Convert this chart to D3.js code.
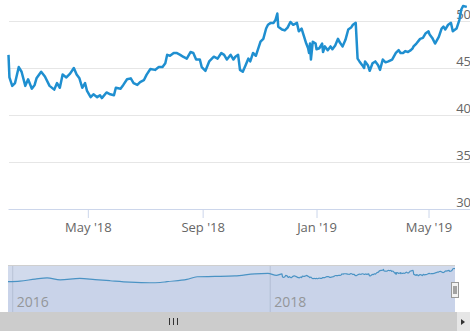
<!DOCTYPE html>
<html>
<head>
<meta charset="utf-8">
<script src="https://cdnjs.cloudflare.com/ajax/libs/d3/7.8.5/d3.min.js"></script>
<style>
  html, body { margin: 0; padding: 0; background: #fff; overflow: hidden; }
  svg { display: block; font-family: "Open Sans", sans-serif; }
</style>
</head>
<body>
<div id="chart"></div>
<script>
// price series shown in the main pane
var priceSeries = [
  ['2018-02-05', 46.4], ['2018-02-06', 44.0], ['2018-02-09', 43.1], ['2018-02-12', 43.4],
  ['2018-02-16', 45.1], ['2018-02-19', 44.6], ['2018-02-23', 43.1], ['2018-02-26', 43.8],
  ['2018-03-02', 42.8], ['2018-03-05', 43.2], ['2018-03-07', 43.9], ['2018-03-12', 44.6],
  ['2018-03-16', 44.1], ['2018-03-21', 43.1], ['2018-03-26', 42.7], ['2018-03-29', 43.4],
  ['2018-04-01', 42.9], ['2018-04-04', 44.3], ['2018-04-08', 44.0], ['2018-04-12', 44.4],
  ['2018-04-16', 45.0], ['2018-04-19', 44.3], ['2018-04-22', 43.9], ['2018-04-25', 42.9],
  ['2018-04-28', 43.4], ['2018-04-30', 42.6], ['2018-05-04', 41.9], ['2018-05-07', 42.2],
  ['2018-05-11', 41.9], ['2018-05-14', 42.1], ['2018-05-16', 41.8], ['2018-05-21', 42.4],
  ['2018-05-25', 42.2], ['2018-05-29', 42.1], ['2018-05-31', 42.9], ['2018-06-05', 42.8],
  ['2018-06-08', 43.2], ['2018-06-12', 43.8], ['2018-06-16', 43.9], ['2018-06-19', 43.4],
  ['2018-06-23', 43.2], ['2018-06-26', 43.5], ['2018-06-30', 43.7], ['2018-07-03', 44.3],
  ['2018-07-07', 44.9], ['2018-07-12', 44.8], ['2018-07-16', 45.1], ['2018-07-20', 45.1],
  ['2018-07-23', 45.5], ['2018-07-25', 46.4], ['2018-07-28', 46.3], ['2018-08-01', 46.6],
  ['2018-08-04', 46.6], ['2018-08-08', 46.4], ['2018-08-11', 46.2], ['2018-08-15', 46.0],
  ['2018-08-19', 46.7], ['2018-08-22', 46.6], ['2018-08-25', 45.9], ['2018-08-29', 45.9],
  ['2018-08-31', 45.1], ['2018-09-04', 44.7], ['2018-09-08', 45.7], ['2018-09-13', 46.2],
  ['2018-09-17', 46.0], ['2018-09-21', 46.6], ['2018-09-24', 46.4], ['2018-09-27', 45.9],
  ['2018-10-01', 46.4], ['2018-10-04', 45.9], ['2018-10-06', 46.2], ['2018-10-09', 46.4],
  ['2018-10-11', 44.8], ['2018-10-14', 44.6], ['2018-10-17', 45.3], ['2018-10-20', 46.0],
  ['2018-10-22', 45.7], ['2018-10-25', 46.6], ['2018-10-28', 46.3], ['2018-10-30', 46.9],
  ['2018-11-02', 47.8], ['2018-11-05', 48.1], ['2018-11-08', 49.2], ['2018-11-10', 49.6],
  ['2018-11-13', 49.8], ['2018-11-16', 49.8], ['2018-11-18', 50.1], ['2018-11-20', 50.8],
  ['2018-11-21', 49.4], ['2018-11-25', 49.1], ['2018-11-28', 49.0], ['2018-12-01', 49.3],
  ['2018-12-04', 49.9], ['2018-12-07', 49.6], ['2018-12-11', 49.8], ['2018-12-13', 48.9],
  ['2018-12-16', 49.2], ['2018-12-21', 47.6], ['2018-12-23', 47.1], ['2018-12-24', 46.6],
  ['2018-12-25', 47.6], ['2018-12-26', 45.9], ['2018-12-28', 47.8], ['2018-12-31', 47.6],
  ['2019-01-01', 47.0], ['2019-01-04', 47.1], ['2019-01-07', 47.6], ['2019-01-08', 46.7],
  ['2019-01-10', 47.3], ['2019-01-13', 46.9], ['2019-01-16', 47.3], ['2019-01-18', 47.0],
  ['2019-01-21', 47.4], ['2019-01-24', 48.1], ['2019-01-26', 47.7], ['2019-01-29', 47.3],
  ['2019-02-01', 48.0], ['2019-02-04', 49.1], ['2019-02-07', 49.3], ['2019-02-09', 49.6],
  ['2019-02-12', 49.8], ['2019-02-14', 46.0], ['2019-02-16', 45.7], ['2019-02-19', 45.3],
  ['2019-02-21', 45.0], ['2019-02-22', 45.7], ['2019-02-25', 45.3], ['2019-02-27', 44.7],
  ['2019-03-02', 45.5], ['2019-03-05', 45.7], ['2019-03-08', 45.3], ['2019-03-10', 44.8],
  ['2019-03-13', 45.9], ['2019-03-16', 45.6], ['2019-03-19', 45.7], ['2019-03-23', 45.9],
  ['2019-03-27', 46.6], ['2019-03-30', 46.9], ['2019-04-01', 46.6], ['2019-04-04', 46.6],
  ['2019-04-06', 46.8], ['2019-04-09', 46.7], ['2019-04-12', 46.9], ['2019-04-14', 47.1],
  ['2019-04-15', 47.3], ['2019-04-18', 47.6], ['2019-04-22', 48.1], ['2019-04-25', 48.2],
  ['2019-04-28', 48.7], ['2019-05-01', 48.9], ['2019-05-02', 48.6], ['2019-05-05', 48.2],
  ['2019-05-08', 47.6], ['2019-05-12', 48.3], ['2019-05-15', 49.2], ['2019-05-17', 49.4],
  ['2019-05-19', 49.1], ['2019-05-22', 49.6], ['2019-05-25', 49.8], ['2019-05-27', 48.9],
  ['2019-05-31', 49.2], ['2019-06-03', 50.1], ['2019-06-05', 51.2], ['2019-06-07', 51.6],
  ['2019-06-11', 51.5]
];

// older history, only visible in the navigator
var historySeries = [
  ['2015-12-20', 39.0], ['2016-01-23', 39.5], ['2016-03-06', 41.5], ['2016-04-09', 42.7],
  ['2016-05-16', 40.8], ['2016-07-11', 42.2], ['2016-08-23', 41.0], ['2016-10-05', 39.9],
  ['2016-11-30', 38.6], ['2017-01-26', 38.0], ['2017-02-24', 38.2], ['2017-03-15', 39.0],
  ['2017-05-11', 41.2], ['2017-06-09', 43.7], ['2017-07-30', 44.0], ['2017-09-24', 44.5],
  ['2017-11-20', 46.5], ['2017-12-27', 46.9], ['2018-01-20', 45.0]
];

var yTicks = [30, 35, 40, 45, 50];
var xTickDates = ['2018-05-01', '2018-09-01', '2019-01-01', '2019-05-01'];
var xTickLabels = ["May '18", "Sep '18", "Jan '19", "May '19"];
var navTickDates = ['2016-01-01', '2018-01-01'];
var navTickLabels = ['2016', '2018'];

var W = 470, H = 331;
var parseDate = d3.timeParse('%Y-%m-%d');
var toPoint = function(d) { return { date: parseDate(d[0]), value: d[1] }; };
var price = priceSeries.map(toPoint);
var navData = historySeries.map(toPoint).concat(price);

var svg = d3.select('#chart').append('svg')
  .attr('width', W)
  .attr('height', H);

// main pane scales
var x = d3.scaleTime()
  .domain([price[0].date, price[price.length - 1].date])
  .range([8.5, 466.8]);
var y = d3.scaleLinear().domain([30, 50]).range([209, 21]);

// horizontal grid + right-side labels (drawn inside the plot, above the lines)
var gridRight = W + 2, gridLeft = 9;
var yAxis = d3.axisLeft(y)
  .tickValues(yTicks)
  .tickSize(gridRight - gridLeft)
  .tickPadding(0);
var gy = svg.append('g')
  .attr('transform', 'translate(' + gridRight + ',0)')
  .call(yAxis);
gy.select('.domain').remove();
gy.selectAll('.tick line').attr('stroke', '#e6e6e6');
gy.selectAll('.tick text')
  .attr('x', -1)
  .attr('dy', -3)
  .attr('fill', '#666')
  .style('font-size', '13px')
  .style('font-family', '"Open Sans", sans-serif');

// x axis
var xAxis = d3.axisBottom(x)
  .tickValues(xTickDates.map(parseDate))
  .tickFormat(function(d, i) { return xTickLabels[i]; })
  .tickSize(9)
  .tickSizeOuter(0)
  .tickPadding(5);
var gx = svg.append('g')
  .attr('transform', 'translate(0,209)')
  .call(xAxis);
gx.select('.domain').attr('stroke', '#ccd6eb').attr('d', 'M8.5,0.5H' + W);
gx.selectAll('.tick line').attr('stroke', '#ccd6eb');
gx.selectAll('.tick text')
  .attr('fill', '#666')
  .style('font-size', '13px')
  .style('font-family', '"Open Sans", sans-serif');

// price line
var line = d3.line()
  .x(function(d) { return x(d.date); })
  .y(function(d) { return y(d.value); });
svg.append('path')
  .datum(price)
  .attr('fill', 'none')
  .attr('stroke', '#1f8fd0')
  .attr('stroke-width', 2.5)
  .attr('stroke-linejoin', 'round')
  .attr('d', line);

// navigator
var navTop = 266, navBottom = 312;
var nx = d3.scaleTime()
  .domain([navData[0].date, price[price.length - 1].date])
  .range([8, 455]);
var ny = d3.scaleLinear().domain([10, 54]).range([navBottom, navTop]);

svg.append('rect')
  .attr('x', 8).attr('y', navTop)
  .attr('width', 447).attr('height', navBottom - navTop)
  .attr('fill', '#d1daec');

svg.append('line')
  .attr('x1', 8).attr('x2', 455)
  .attr('y1', navTop - 0.5).attr('y2', navTop - 0.5)
  .attr('stroke', '#cfcfcf');

var gnav = svg.append('g')
  .attr('transform', 'translate(0,' + navTop + ')')
  .call(d3.axisBottom(nx)
    .tickValues(navTickDates.map(parseDate))
    .tickFormat(function(d, i) { return navTickLabels[i]; })
    .tickSize(navBottom - navTop)
    .tickSizeOuter(0));
gnav.select('.domain').remove();
gnav.selectAll('.tick line').attr('stroke', '#b9c3d6');
gnav.selectAll('.tick text')
  .attr('text-anchor', 'start')
  .attr('x', 4)
  .attr('y', 41)
  .attr('dy', 0)
  .attr('fill', '#999')
  .style('font-size', '14px')
  .style('font-family', '"Open Sans", sans-serif');

var navArea = d3.area()
  .curve(d3.curveMonotoneX)
  .x(function(d) { return nx(d.date); })
  .y0(navBottom)
  .y1(function(d) { return ny(d.value); });
svg.append('path')
  .datum(navData)
  .attr('fill', 'rgba(51,92,173,0.05)')
  .attr('d', navArea);
svg.append('path')
  .datum(navData)
  .attr('fill', 'none')
  .attr('stroke', '#4a93c4')
  .attr('stroke-width', 1.2)
  .attr('d', navArea.lineY1());

// right handle
var handle = svg.append('g').attr('transform', 'translate(451.5,282.5)');
handle.append('rect')
  .attr('width', 7).attr('height', 15)
  .attr('fill', '#f2f2f2').attr('stroke', '#999');
handle.append('path')
  .attr('d', 'M2.5,3.5V11.5M4.5,3.5V11.5')
  .attr('stroke', '#555');

// scrollbar
svg.append('rect')
  .attr('x', 0).attr('y', navBottom)
  .attr('width', 457).attr('height', H - navBottom)
  .attr('fill', '#cccccc');
svg.append('rect')
  .attr('x', 457).attr('y', navBottom)
  .attr('width', W - 457).attr('height', H - navBottom)
  .attr('fill', '#e6e6e6');
svg.append('path')
  .attr('d', 'M461,319L465,322L461,325Z')
  .attr('fill', '#333');
svg.append('path')
  .attr('d', 'M169.5,318V325M173.5,318V325M177.5,318V325')
  .attr('stroke', '#333');
</script>
</body>
</html>
